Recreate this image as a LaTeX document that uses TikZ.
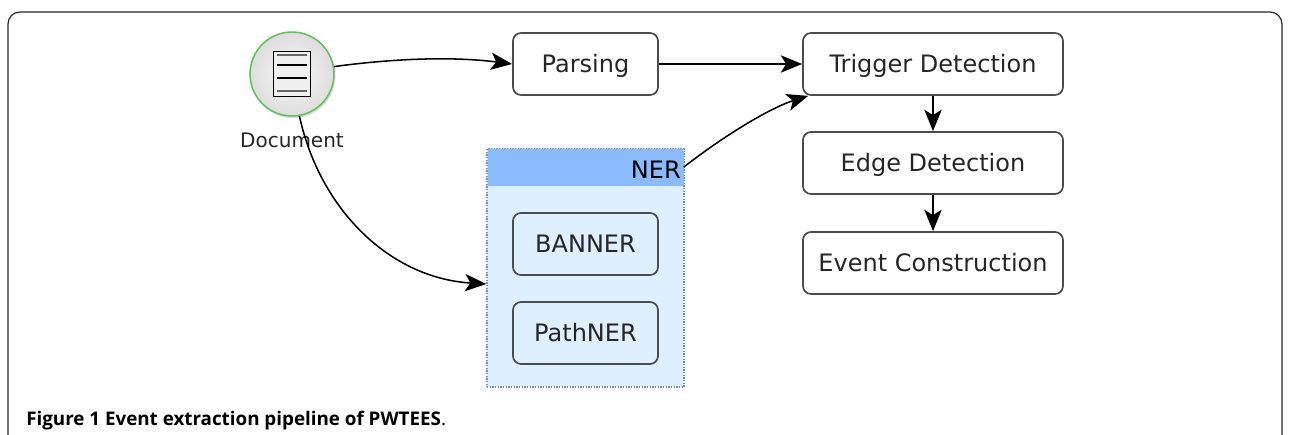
\documentclass[tikz,border=0pt]{standalone}
\usepackage{fontspec}
\setmainfont{DejaVu Sans}
\newfontfamily\capfont{Open Sans}
\usetikzlibrary{arrows.meta, positioning, calc, shadows}

\definecolor{nerhead}{RGB}{138,187,255}
\definecolor{nerbody}{RGB}{222,240,255}
\definecolor{nerdots}{RGB}{110,140,190}
\definecolor{docgreen}{RGB}{95,190,90}

\begin{document}
\begin{tikzpicture}[
    x=0.75pt, y=-0.75pt,
    every node/.style={font=\fontsize{18}{20}\selectfont, text=black!85}, % box text
    proc/.style={draw=black!70, line width=1.3pt, rounded corners=6pt, fill=white,
        minimum height=46.5pt, inner sep=0pt, text height=13pt, text depth=0pt}, % process box
    wide/.style={proc, minimum width=195pt},
    narrow/.style={proc, minimum width=108.75pt},
    conn/.style={black, line width=1.15pt, -{Stealth[length=16pt, width=13pt, inset=4pt]}}
]
    \useasboundingbox (0,0) rectangle (1290,435);

    % outer frame, open at the bottom
    \draw[black!85, line width=0.9pt, rounded corners=9pt] (8,435) -- (8,12) -- (1282,12) -- (1282,435);

    % NER group
    \node[draw=nerdots, densely dotted, line width=1pt, fill=nerbody, minimum width=147.75pt,
        minimum height=178.5pt, inner sep=0pt] (ner) at (585.5,268) {};
    \node[fill=nerhead, minimum width=147pt, minimum height=27.75pt, inner sep=0pt, anchor=north] (nerbar) at (ner.north) {};
    \node[anchor=east, inner sep=0pt, font=\fontsize{18}{20}\selectfont, text=black] (nerlabel) at (681,170) {NER};
    \node[narrow, fill=nerbody] (banner) at (585.5,244) {BANNER};
    \node[narrow, fill=nerbody] (pathner) at (585.5,333) {PathNER};

    % pipeline
    \node[narrow] (parsing) at (585.5,64) {Parsing};
    \node[wide] (trigger) at (933,64) {Trigger Detection};
    \node[wide] (edge) at (933,163) {Edge Detection};
    \node[wide] (event) at (933,263) {Event Construction};

    % document
    \node[circle, draw=docgreen, line width=1.1pt, minimum size=63pt, inner sep=0pt,
        inner color=white!97!black, outer color=black!13, drop shadow={opacity=0.3, shadow xshift=1pt, shadow yshift=-1.5pt}] (doc) at (292,74) {};
    \node[draw=black, line width=1pt, fill=white!94!black, minimum width=28pt, minimum height=34pt,
        inner sep=0pt] (page) at (292,74) {};
    \foreach \y/\w/\c in {55/1.2/black!60, 65/0.9/black, 78/0.9/black, 91/1.8/black!60} {
        \draw[\c, line width=\w pt] (277,\y) -- (307,\y);
    }
    \node[font=\fontsize{15}{18}\selectfont, inner sep=0pt] (doclabel) at (292,140) {Document};

    % connectors
    \draw[conn] (doc.10) .. controls (390,59) and (450,56) .. (parsing.west);
    \draw[conn] (doc.-80) .. controls (320,210) and (390,278) .. ($(ner.west)+(0,16)$);
    \draw[conn] (parsing) -- (trigger);
    \draw[conn] (nerbar.east) .. controls (725,135) and (770,108) .. ($(trigger.south west)+(6,0)$);
    \draw[conn] (trigger) -- (edge);
    \draw[conn] (edge) -- (event);

    % caption
    \node[anchor=base west, inner sep=0pt, font=\capfont\fontsize{14.1}{16}\selectfont, text=black] (caption) at (26,425)
        {\textbf{Figure 1 Event extraction pipeline of PWTEES}.};
\end{tikzpicture}
\end{document}
